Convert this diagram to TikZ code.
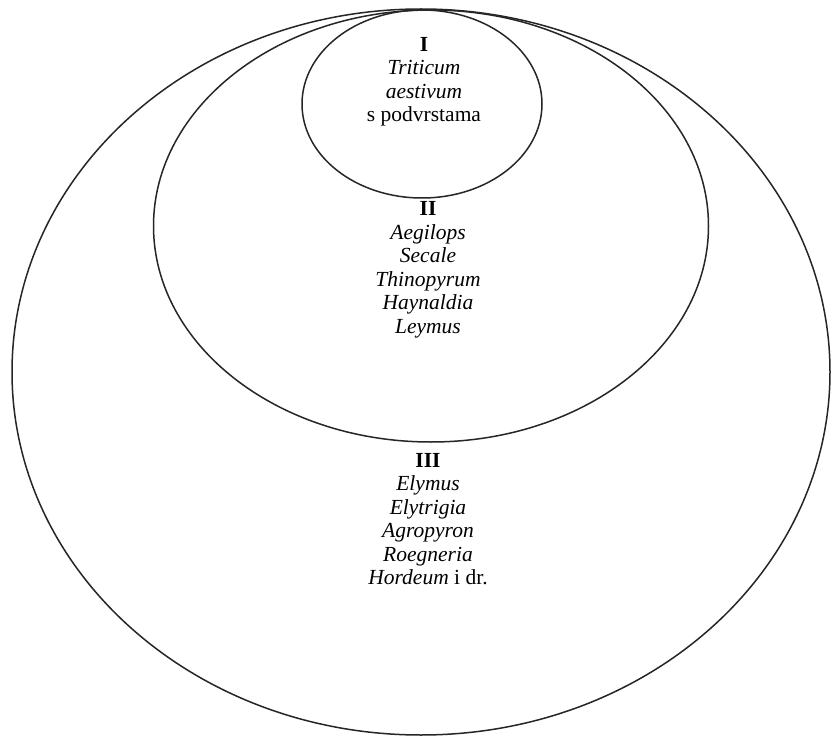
\documentclass[tikz,border=0pt]{standalone}
\usepackage{fontspec}
\setmainfont{Liberation Serif}
\usetikzlibrary{shapes.geometric}
\begin{document}
\begin{tikzpicture}[x=1pt,y=-1pt,
  ring/.style={draw=black!85, line width=1.5pt, ellipse, inner sep=0pt},
  lbl/.style={align=center, font=\fontsize{21.5}{23.5}\selectfont, inner sep=0pt}]
\useasboundingbox[fill=white] (0,0) rectangle (833,738);
\node[ring, minimum width=818pt, minimum height=726pt] (outer) at (421,372) {};
\node[ring, minimum width=555pt, minimum height=432pt] (middle) at (431,226) {};
\node[ring, minimum width=240pt, minimum height=188pt] (inner) at (422,104) {};
\node[lbl] (t1) at (424,82) {\textbf{I}\\\textit{Triticum}\\\textit{aestivum}\\s podvrstama};
\node[lbl] (t2) at (428,270) {\textbf{II}\\\textit{Aegilops}\\\textit{Secale}\\\textit{Thinopyrum}\\\textit{Haynaldia}\\\textit{Leymus}};
\node[lbl] (t3) at (428,519) {\textbf{III}\\\textit{Elymus}\\\textit{Elytrigia}\\\textit{Agropyron}\\\textit{Roegneria}\\\textit{Hordeum} i dr.};
\end{tikzpicture}
\end{document}
